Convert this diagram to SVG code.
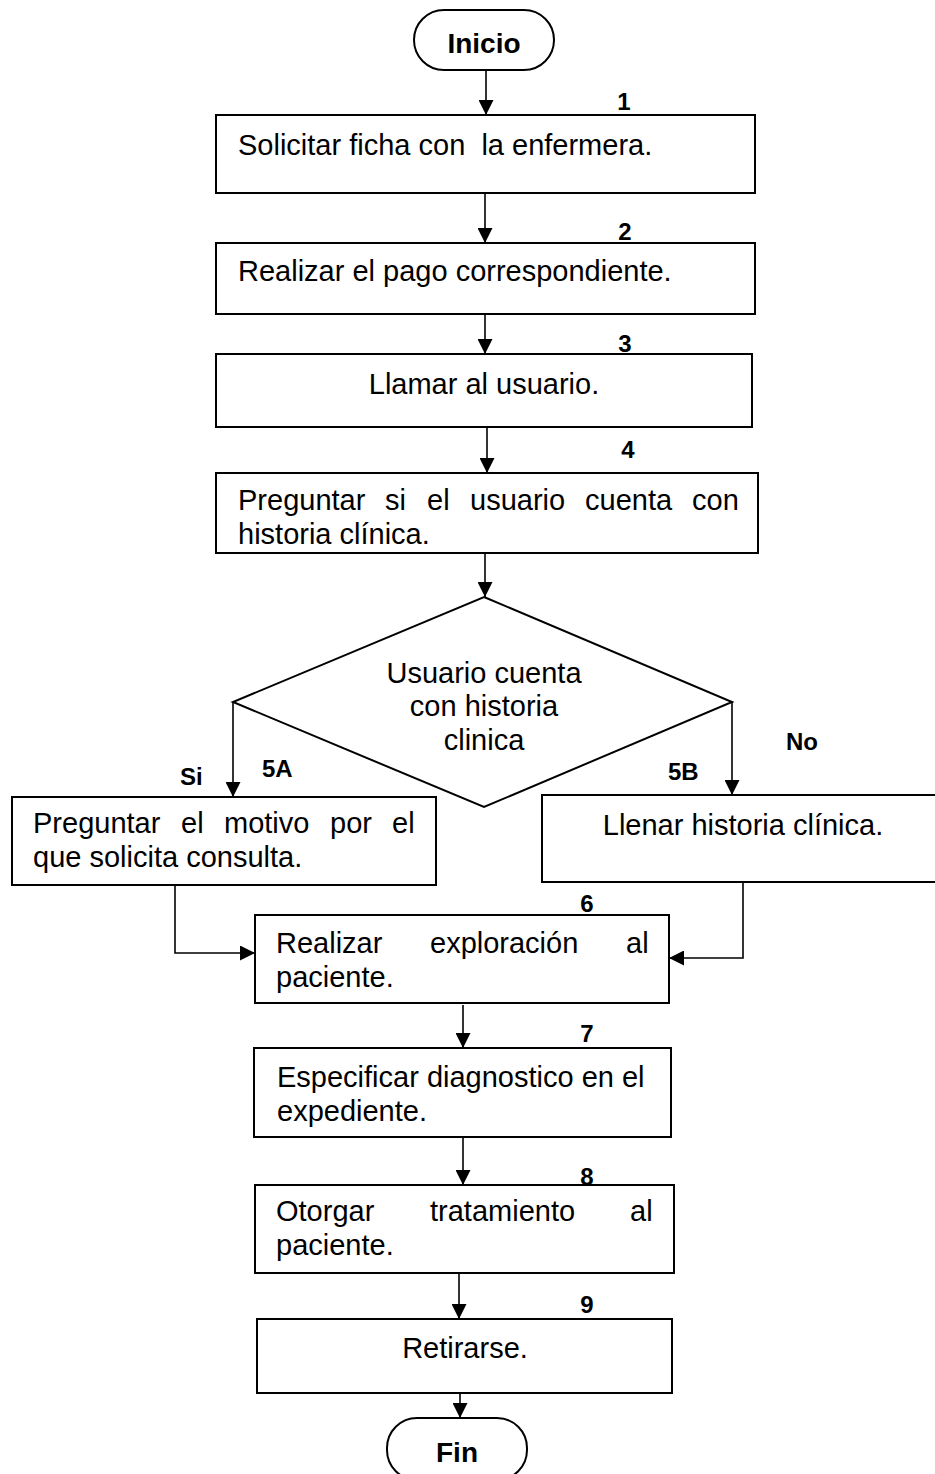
<svg xmlns="http://www.w3.org/2000/svg" width="935" height="1474" viewBox="0 0 935 1474">
<style>
.b{fill:#fff;stroke:#000;stroke-width:2}
.t{font-family:"Liberation Sans",Arial,sans-serif;font-size:29px;fill:#000}
.c{text-anchor:middle}
.n{font-family:"Liberation Sans",Arial,sans-serif;font-size:24px;font-weight:bold;fill:#000}
.k{font-family:"Liberation Sans",Arial,sans-serif;font-size:28px;font-weight:bold;fill:#000;text-anchor:middle}
.l{fill:none;stroke:#000;stroke-width:1.6}
</style>
<defs>
<marker id="ah" markerUnits="userSpaceOnUse" markerWidth="15" markerHeight="15" refX="15" refY="7.5" orient="auto">
<path d="M0,0 L15,7.5 L0,15 z" fill="#000"/>
</marker>
</defs>
<rect width="935" height="1474" fill="#fff"/>
<g id="connectors">
<line class="l" x1="486" y1="70" x2="486" y2="115" marker-end="url(#ah)"/>
<line class="l" x1="485" y1="193" x2="485" y2="243" marker-end="url(#ah)"/>
<line class="l" x1="485" y1="314" x2="485" y2="354" marker-end="url(#ah)"/>
<line class="l" x1="487" y1="427" x2="487" y2="473" marker-end="url(#ah)"/>
<line class="l" x1="485" y1="553" x2="485" y2="597" marker-end="url(#ah)"/>
<line class="l" x1="233" y1="702" x2="233" y2="797" marker-end="url(#ah)"/>
<line class="l" x1="732" y1="702" x2="732" y2="795" marker-end="url(#ah)"/>
<polyline class="l" points="175,885 175,953 255,953" marker-end="url(#ah)"/>
<polyline class="l" points="743,882 743,958 669,958" marker-end="url(#ah)"/>
<line class="l" x1="463" y1="1005" x2="463" y2="1048" marker-end="url(#ah)"/>
<line class="l" x1="463" y1="1137" x2="463" y2="1185" marker-end="url(#ah)"/>
<line class="l" x1="459" y1="1273" x2="459" y2="1319" marker-end="url(#ah)"/>
<line class="l" x1="460" y1="1393" x2="460" y2="1418" marker-end="url(#ah)"/>
</g>
<g id="inicio">
<rect class="b" x="414" y="10" width="140" height="60" rx="30"/>
<text class="k" x="484" y="53">Inicio</text>
</g>
<g id="paso1">
<rect class="b" x="216" y="115" width="539" height="78"/>
<text class="t" x="238" y="155" xml:space="preserve">Solicitar ficha con  la enfermera.</text>
<text class="n c" x="624" y="110">1</text>
</g>
<g id="paso2">
<rect class="b" x="216" y="243" width="539" height="71"/>
<text class="t" x="238" y="281">Realizar el pago correspondiente.</text>
<text class="n c" x="625" y="240">2</text>
</g>
<g id="paso3">
<rect class="b" x="216" y="354" width="536" height="73"/>
<text class="t c" x="484" y="394">Llamar al usuario.</text>
<text class="n c" x="625" y="352">3</text>
</g>
<g id="paso4">
<rect class="b" x="216" y="473" width="542" height="80"/>
<text class="t" y="510"><tspan x="238">Preguntar</tspan><tspan x="385">si</tspan><tspan x="427">el</tspan><tspan x="470">usuario</tspan><tspan x="585">cuenta</tspan><tspan x="692">con</tspan></text>
<text class="t" x="238" y="544">historia clínica.</text>
<text class="n c" x="628" y="458">4</text>
</g>
<g id="decision">
<polygon class="b" points="484,597 732,702 484,807 233,702"/>
<text class="t c" x="484" y="683">Usuario cuenta</text>
<text class="t c" x="484" y="716">con historia</text>
<text class="t c" x="484" y="750">clinica</text>
<text class="n" x="180" y="785">Si</text>
<text class="n" x="262" y="777">5A</text>
<text class="n" x="786" y="750">No</text>
<text class="n" x="668" y="780">5B</text>
</g>
<g id="paso5A">
<rect class="b" x="12" y="797" width="424" height="88"/>
<text class="t" y="833"><tspan x="33">Preguntar</tspan><tspan x="181">el</tspan><tspan x="224">motivo</tspan><tspan x="330">por</tspan><tspan x="392">el</tspan></text>
<text class="t" x="33" y="867">que solicita consulta.</text>
</g>
<g id="paso5B">
<rect class="b" x="542" y="795" width="400" height="87"/>
<text class="t c" x="743" y="835">Llenar historia clínica.</text>
</g>
<g id="paso6">
<rect class="b" x="255" y="915" width="414" height="88"/>
<text class="t" y="953"><tspan x="276">Realizar</tspan><tspan x="430">exploración</tspan><tspan x="626">al</tspan></text>
<text class="t" x="276" y="987">paciente.</text>
<text class="n c" x="587" y="912">6</text>
</g>
<g id="paso7">
<rect class="b" x="254" y="1048" width="417" height="89"/>
<text class="t" x="277" y="1087">Especificar diagnostico en el</text>
<text class="t" x="277" y="1121">expediente.</text>
<text class="n c" x="587" y="1042">7</text>
</g>
<g id="paso8">
<rect class="b" x="255" y="1185" width="419" height="88"/>
<text class="t" y="1221"><tspan x="276">Otorgar</tspan><tspan x="430">tratamiento</tspan><tspan x="630">al</tspan></text>
<text class="t" x="276" y="1255">paciente.</text>
<text class="n c" x="587" y="1185">8</text>
</g>
<g id="paso9">
<rect class="b" x="257" y="1319" width="415" height="74"/>
<text class="t c" x="465" y="1358">Retirarse.</text>
<text class="n c" x="587" y="1313">9</text>
</g>
<g id="fin">
<rect class="b" x="387" y="1418" width="140" height="62" rx="30"/>
<text class="k" x="457" y="1462">Fin</text>
</g>
</svg>
